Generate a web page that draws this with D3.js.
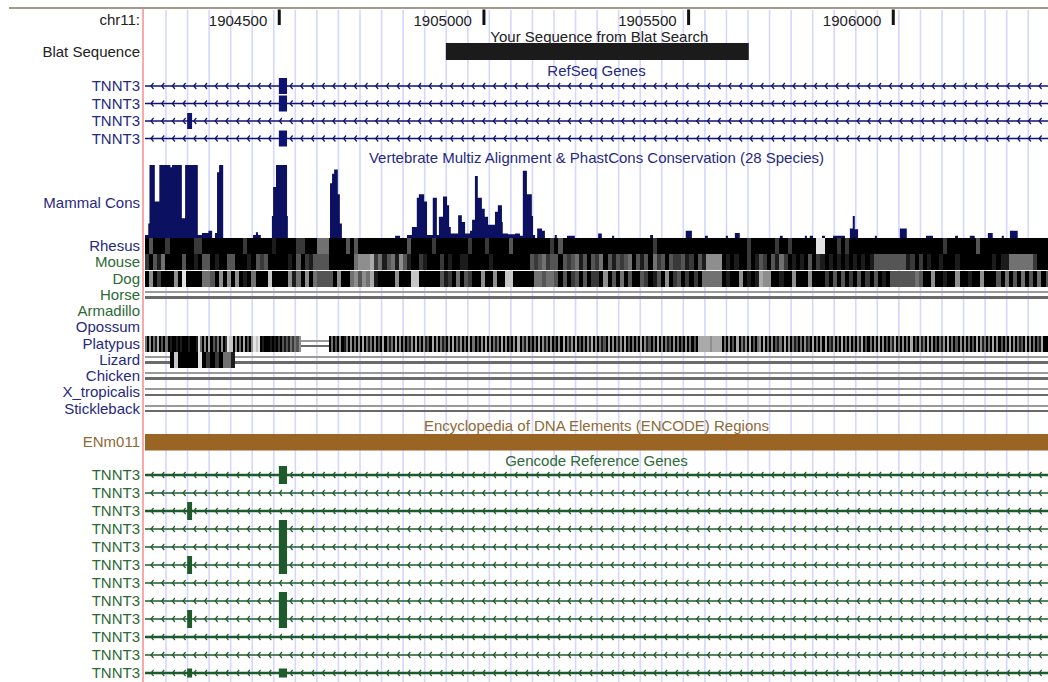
<!DOCTYPE html>
<html>
<head>
<meta charset="utf-8">
<script src="https://cdn.jsdelivr.net/npm/d3@7"></script>
<style>
  body { margin: 0; background: #fff; }
  svg text { font-family: "Liberation Sans", Arial, sans-serif; font-size: 15px; }
</style>
</head>
<body>
<svg id="browser" width="1048" height="682"></svg>
<script>
// ---- Window and ruler ----
const chromLabel = "chr11:";
const viewRange = [1904172, 1906378];
const rulerTicks = [1904500, 1905000, 1905500, 1906000];
const guideStart = 1904223.3;   // first guideline (bp)
const guideStep = 52.66;        // guideline spacing (bp)
const guideCount = 41;

// ---- BLAT hit ----
const blatLabel = "Blat Sequence";
const blatTitle = "Your Sequence from Blat Search";
const blatHit = [1904907, 1905647];

// ---- RefSeq genes ----
const refseqTitle = "RefSeq Genes";
const refseqNames = ["TNNT3", "TNNT3", "TNNT3", "TNNT3"];
const refseqExons = [
  [[1904499, 1904519]],
  [[1904499, 1904519]],
  [[1904275, 1904287]],
  [[1904499, 1904519]]
];

// ---- Conservation (start bp, end bp, score 0..1) ----
const consTitle = "Vertebrate Multiz Alignment & PhastCons Conservation (28 Species)";
const consLabel = "Mammal Cons";
const consScores = [
  [1904172,1904180,0.04],[1904180,1904183,0.2],[1904183,1904196,1.0],[1904196,1904207,0.5],
  [1904207,1904234,1.0],[1904234,1904238,0.97],[1904238,1904262,1.0],[1904262,1904270,0.27],
  [1904270,1904301,1.0],[1904301,1904311,0.04],[1904311,1904327,0.07],[1904327,1904336,0.1],
  [1904343,1904348,0.07],[1904348,1904353,0.9],[1904353,1904363,1.0],
  [1904436,1904443,0.04],[1904443,1904448,0.08],[1904448,1904455,0.04],
  [1904482,1904485,0.3],[1904485,1904492,0.7],[1904492,1904519,1.0],[1904519,1904521,0.3],
  [1904624,1904629,0.75],[1904629,1904634,0.88],[1904634,1904643,0.94],[1904643,1904648,0.6],[1904648,1904653,0.2],
  [1904783,1904795,0.03],[1904812,1904824,0.04],[1904824,1904836,0.15],[1904836,1904841,0.55],
  [1904841,1904854,0.6],[1904854,1904861,0.5],[1904861,1904875,0.04],[1904875,1904885,0.55],
  [1904885,1904890,0.04],[1904890,1904900,0.29],[1904900,1904910,0.57],[1904910,1904915,0.45],
  [1904915,1904919,0.15],[1904919,1904937,0.06],[1904937,1904946,0.31],[1904946,1904954,0.22],
  [1904954,1904966,0.06],[1904966,1904971,0.1],[1904971,1904978,0.25],[1904978,1904985,0.85],
  [1904985,1904995,0.55],[1904995,1905002,0.4],[1905002,1905010,0.29],[1905010,1905027,0.18],
  [1905027,1905034,0.36],[1905034,1905044,0.45],[1905044,1905046,0.22],[1905046,1905059,0.06],
  [1905059,1905076,0.05],[1905076,1905088,0.06],[1905088,1905095,0.03],[1905095,1905105,0.92],
  [1905105,1905117,0.6],[1905117,1905120,0.3],[1905120,1905125,0.04],[1905130,1905142,0.13],
  [1905142,1905149,0.1],[1905173,1905178,0.04],[1905203,1905222,0.03],[1905279,1905288,0.06],
  [1905313,1905318,0.03],[1905406,1905413,0.04],[1905493,1905508,0.1],[1905540,1905547,0.03],
  [1905591,1905596,0.03],[1905613,1905625,0.07],[1905723,1905730,0.03],[1905784,1905789,0.03],
  [1905796,1905804,0.03],[1905826,1905833,0.03],[1905853,1905882,0.03],[1905894,1905901,0.13],
  [1905901,1905906,0.3],[1905906,1905914,0.12],[1905955,1905960,0.03],[1906016,1906033,0.13],
  [1906080,1906097,0.03],[1906151,1906158,0.03],[1906187,1906199,0.03],[1906231,1906243,0.07],
  [1906265,1906270,0.03],[1906285,1906304,0.1]
];

// ---- Multiz species rows ----
const species = ["Rhesus","Mouse","Dog","Horse","Armadillo","Opossum","Platypus","Lizard","Chicken","X_tropicalis","Stickleback"];
// one character per bin: 0 (white) .. 9 (black), '=' unaligned double line
const alignBin = { Rhesus: 10, Mouse: 10, Dog: 10, Platypus: 5, Lizard: 10 };
const alignRows = {
  Rhesus:
    "9699979999" + "9977999999" + "9999799999" + "9899999779" + "9955599996" +
    "9699999999" + "9999699999" + "7999999997" + "9997999996" + "9999999997" +
    "9699999999" + "9999999999" + "9999799999" + "9999999999" + "9999999799" +
    "9999799799" + "9999119997" + "9799999999" + "9999999999" + "9999979999" +
    "9996999999" + "9999999999" + "9",
  Mouse:
    "7968599996" + "9989669899" + "6699989676" + "9999989697" + "8666699999" +
    "9544437586" + "5846899789" + "9979899889" + "9999899999" + "9999676576" +
    "6967658696" + "7596867659" + "6869576967" + "7687968444" + "4989899798" +
    "6796857989" + "8969789898" + "9898989866" + "6666668797" + "9899899989" +
    "9999999898" + "8555555799" + "9",
  Dog:
    "9497999491" + "9999556949" + "4949895999" + "2999948594" + "9566669499" +
    "5464538999" + "9499922999" + "9968795967" + "9949949922" + "9999955655" +
    "6969769697" + "7949695969" + "9679869497" + "6979795555" + "5989949898" +
    "3449989949" + "9949997969" + "6979697969" + "8966666656" + "9949989949" +
    "9899499969" + "5969596959" + "6",
  Platypus:
    "59495839695989989899" + "98999815949396859497" + "12294959396941219899" +
    "9898979686857564====" + "==========9596949859" + "49594939585949693958" +
    "59394959684939594869" + "39495869493958495939" + "59694939495859394969" +
    "49395849695939485949" + "69493958493969594839" + "49586939495849396959" +
    "59394869593949586949" + "59694959693333334333" + "33959496939584939695" +
    "49395949685939495869" + "59486939594939684959" + "39594959483969594939" +
    "49695839594959396948" + "59394969584939596949" + "49596939485959394969" +
    "59394958693949596839" + "95",
  Lizard:
    "======9299" + "9991979795" + "58========" + "==========" + "==========" +
    "==========" + "==========" + "==========" + "==========" + "==========" +
    "==========" + "==========" + "==========" + "==========" + "==========" +
    "==========" + "==========" + "==========" + "==========" + "==========" +
    "==========" + "==========" + "="
};
const unalignedSpecies = ["Horse", "Chicken", "X_tropicalis", "Stickleback"];

// ---- ENCODE regions ----
const encodeTitle = "Encyclopedia of DNA Elements (ENCODE) Regions";
const encodeRegions = [["ENm011", 1700000, 2306356]];

// ---- Gencode genes ----
const gencodeTitle = "Gencode Reference Genes";
const gencodeNames = ["TNNT3","TNNT3","TNNT3","TNNT3","TNNT3","TNNT3",
                      "TNNT3","TNNT3","TNNT3","TNNT3","TNNT3","TNNT3"];
// [start, end, thickness] thickness 1 = coding, 0.5 = UTR
const gencodeExons = [
  [[1904499, 1904519, 1]],
  [],
  [[1904275, 1904287, 1]],
  [[1904499, 1904519, 1]],
  [[1904499, 1904519, 1]],
  [[1904275, 1904287, 1], [1904499, 1904519, 1]],
  [],
  [[1904499, 1904519, 1]],
  [[1904275, 1904287, 1], [1904499, 1904519, 1]],
  [],
  [],
  [[1904275, 1904287, 0.5], [1904499, 1904519, 0.5]]
];
const gencodeHeavy = [true, false, true, false, false, false, false, false, false, true, false, true];

// ---- Styles ----
const C = {
  navy: "#0e1270", navyText: "#1f2a80", green: "#1f5a2c", greenText: "#2c6a36",
  brown: "#9a6424", brownText: "#8e6a36", guide: "#d6d6ff", pink: "#f6aaaa",
  cons: "#0c1060", blat: "#1b1b1b"
};
const speciesColor = {
  Rhesus: C.navyText, Mouse: C.greenText, Dog: C.greenText, Horse: C.greenText,
  Armadillo: C.greenText, Opossum: C.navyText, Platypus: C.navyText, Lizard: C.navyText,
  Chicken: C.navyText, X_tropicalis: C.navyText, Stickleback: C.navyText
};

const svg = d3.select("#browser");
const W = 1048, H = 682;
const labelX = 140;
const x = d3.scaleLinear().domain(viewRange).range([145, 1048]).clamp(true);

// guidelines
const guides = d3.range(guideCount).map(i => guideStart + i * guideStep);
svg.append("g").selectAll("line").data(guides).join("line")
  .attr("x1", d => x(d)).attr("x2", d => x(d))
  .attr("y1", 10).attr("y2", H)
  .attr("stroke", C.guide).attr("stroke-width", 1.6);

// left margin marker
svg.append("line").attr("x1", 143).attr("x2", 143).attr("y1", 9).attr("y2", H)
  .attr("stroke", C.pink).attr("stroke-width", 2);

// top border
svg.append("line").attr("x1", 9).attr("x2", W).attr("y1", 8).attr("y2", 8)
  .attr("stroke", "#a39a8c").attr("stroke-width", 2);

function label(txt, y, color, anchor = "end", xx = labelX) {
  return svg.append("text").attr("x", xx).attr("y", y + 5.2)
    .attr("text-anchor", anchor).attr("fill", color).text(txt);
}
const midX = (x.range()[0] + x.range()[1]) / 2;

// ---- ruler ----
label(chromLabel, 20, "#222");
const ruler = svg.append("g");
ruler.selectAll("rect").data(rulerTicks).join("rect")
  .attr("x", d => x(d) - 1.5).attr("y", 9.5).attr("width", 3).attr("height", 15.5)
  .attr("fill", "#111");
ruler.selectAll("text").data(rulerTicks).join("text")
  .attr("x", d => x(d) - 12).attr("y", 25.5).attr("text-anchor", "end")
  .attr("fill", "#222").text(d => d);

// ---- BLAT ----
svg.append("rect").attr("x", x(blatHit[0])).attr("y", 43)
  .attr("width", x(blatHit[1]) - x(blatHit[0])).attr("height", 17).attr("fill", C.blat);
label(blatTitle, 37, "#222", "middle", (x(blatHit[0]) + x(blatHit[1])) / 2 + 2);
label(blatLabel, 52, "#222");

// ---- gene rows ----
function geneRow(y, exons, color, exonH, lineW, dir) {
  const g = svg.append("g");
  const [x0, x1] = x.range();
  g.append("line").attr("x1", x0).attr("x2", x1).attr("y1", y).attr("y2", y)
    .attr("stroke", color).attr("stroke-width", lineW);
  const marks = d3.range(x0 + 6, x1, 10.7);
  g.selectAll("path").data(marks).join("path")
    .attr("d", m => dir < 0
      ? `M${m + 2.5},${y - 3}L${m},${y}L${m + 2.5},${y + 3}`
      : `M${m - 2.5},${y - 3}L${m},${y}L${m - 2.5},${y + 3}`)
    .attr("fill", "none").attr("stroke", color).attr("stroke-width", 1.2);
  g.selectAll("rect").data(exons).join("rect")
    .attr("x", e => x(e[0])).attr("width", e => x(e[1]) - x(e[0]))
    .attr("y", e => y - exonH * (e[2] ?? 1) / 2).attr("height", e => exonH * (e[2] ?? 1))
    .attr("fill", color);
}

label(refseqTitle, 71, C.navyText, "middle", midX);
const refY = d3.scalePoint().domain(d3.range(refseqNames.length)).range([86, 138.5]);
refseqNames.forEach((n, i) => {
  geneRow(refY(i), refseqExons[i], C.navy, 16, 1.6, -1);
  label(n, refY(i), C.navyText);
});

// ---- conservation (one filled step profile) ----
label(consTitle, 158, C.navyText, "middle", midX);
label(consLabel, 203, C.navyText);
const consY = d3.scaleLinear().domain([0, 1]).range([238, 165]);
const consPts = [];
let prevEnd = null;
consScores.forEach(([s, e, v]) => {
  if (prevEnd !== s) {
    if (prevEnd !== null) consPts.push([prevEnd, 0]);
    consPts.push([s, 0]);
  }
  consPts.push([s, v], [e, v]);
  prevEnd = e;
});
consPts.push([prevEnd, 0]);
svg.append("path")
  .attr("d", d3.area().x(p => x(p[0])).y0(consY(0)).y1(p => consY(p[1]))(consPts))
  .attr("fill", C.cons);

// ---- multiz rows ----
const rowY = d3.scalePoint().domain(species).range([246, 408.5]);
function doubleLine(g, xa, xb, y) {
  g.append("line").attr("x1", xa).attr("x2", xb).attr("y1", y - 3).attr("y2", y - 3)
    .attr("stroke", "#9a9a9a").attr("stroke-width", 2);
  g.append("line").attr("x1", xa).attr("x2", xb).attr("y1", y + 2.5).attr("y2", y + 2.5)
    .attr("stroke", "#6a6a6a").attr("stroke-width", 2.5);
}
const ali = svg.append("g").attr("shape-rendering", "crispEdges");
species.forEach(sp => {
  const y = rowY(sp);
  label(sp, y, speciesColor[sp]);
  if (unalignedSpecies.includes(sp)) {
    doubleLine(ali, x.range()[0], x.range()[1], y);
    return;
  }
  const row = alignRows[sp];
  if (!row) return;
  const bin = alignBin[sp];
  let i = 0;
  while (i < row.length) {
    const ch = row[i];
    let j = i + 1;
    while (j < row.length && row[j] === ch) j++;
    const xa = x(viewRange[0] + i * bin), xb = x(viewRange[0] + j * bin);
    if (ch === "=") {
      doubleLine(ali, xa, xb, y);
    } else {
      const v = Math.round(255 * (1 - (+ch) / 9));
      ali.append("rect").attr("x", xa).attr("width", xb - xa)
        .attr("y", y - 8).attr("height", 16).attr("fill", `rgb(${v},${v},${v})`);
    }
    i = j;
  }
});

// ---- ENCODE ----
label(encodeTitle, 426, C.brownText, "middle", midX);
encodeRegions.forEach(r => {
  svg.append("rect").attr("x", x(r[1])).attr("width", x(r[2]) - x(r[1]))
    .attr("y", 434).attr("height", 16.5).attr("fill", C.brown);
  label(r[0], 442, C.brownText);
});

// ---- Gencode ----
label(gencodeTitle, 461, C.greenText, "middle", midX);
const genY = d3.scalePoint().domain(d3.range(gencodeNames.length)).range([475, 673]);
gencodeNames.forEach((n, i) => {
  geneRow(genY(i), gencodeExons[i], C.green, 18, gencodeHeavy[i] ? 2.6 : 1.6, -1);
  label(n, genY(i), C.greenText);
});
</script>
</body>
</html>
